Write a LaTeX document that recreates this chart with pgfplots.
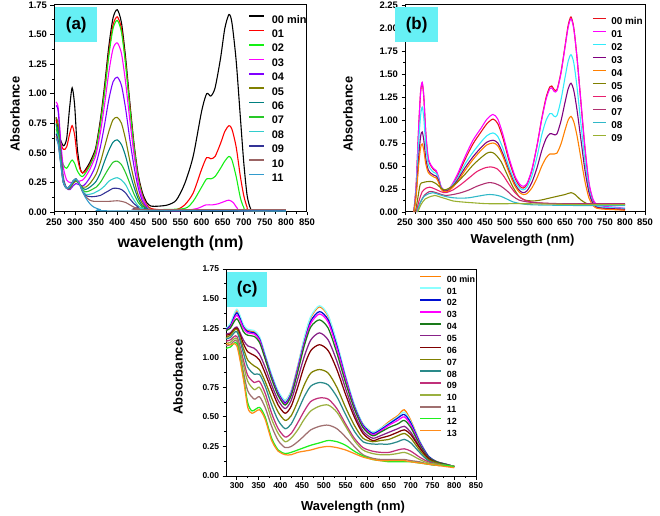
\documentclass[border=0pt]{standalone}
\usepackage{pgfplots}
\pgfplotsset{compat=1.18}
\usepackage{fontspec}
\setmainfont{Liberation Sans}
\definecolor{boxcyan}{RGB}{102,240,245}
% panel a colours
\definecolor{aA}{RGB}{0,0,0}
\definecolor{aB}{RGB}{255,0,0}
\definecolor{aC}{RGB}{20,240,20}
\definecolor{aD}{RGB}{255,0,255}
\definecolor{aE}{RGB}{128,0,255}
\definecolor{aF}{RGB}{128,128,0}
\definecolor{aG}{RGB}{0,128,128}
\definecolor{aH}{RGB}{40,200,40}
\definecolor{aI}{RGB}{50,205,205}
\definecolor{aJ}{RGB}{50,50,150}
\definecolor{aK}{RGB}{155,100,100}
\definecolor{aL}{RGB}{50,155,205}
% panel b colours
\definecolor{bA}{RGB}{232,16,26}
\definecolor{bB}{RGB}{255,0,255}
\definecolor{bC}{RGB}{50,235,250}
\definecolor{bD}{RGB}{128,0,128}
\definecolor{bE}{RGB}{255,128,0}
\definecolor{bF}{RGB}{128,128,0}
\definecolor{bG}{RGB}{232,32,110}
\definecolor{bH}{RGB}{176,48,112}
\definecolor{bI}{RGB}{48,184,200}
\definecolor{bJ}{RGB}{153,176,48}
% panel c colours
\definecolor{cA}{RGB}{255,128,0}
\definecolor{cB}{RGB}{140,255,255}
\definecolor{cC}{RGB}{0,16,210}
\definecolor{cD}{RGB}{255,0,255}
\definecolor{cE}{RGB}{26,122,26}
\definecolor{cF}{RGB}{136,34,136}
\definecolor{cG}{RGB}{128,0,0}
\definecolor{cH}{RGB}{128,128,0}
\definecolor{cI}{RGB}{42,138,138}
\definecolor{cJ}{RGB}{192,48,122}
\definecolor{cK}{RGB}{154,176,64}
\definecolor{cL}{RGB}{160,112,112}
\definecolor{cM}{RGB}{30,240,30}
\definecolor{cN}{RGB}{255,140,26}
\pgfplotsset{
  spec/.style={
    scale only axis, clip=false,
    axis line style={line width=1pt},
    tick style={line width=0.8pt, black},
    major tick length=3.5bp, minor tick length=2bp,
    tick align=outside, xtick pos=left, ytick pos=left,
    /pgf/number format/assume math mode=true,
    tick label style={font=\fontsize{9.5}{9.5}\selectfont\bfseries},
    y tick label style={/pgf/number format/fixed, /pgf/number format/fixed zerofill, /pgf/number format/precision=2},
    x tick label style={/pgf/number format/1000 sep={}},
    label style={font=\fontsize{13}{13}\selectfont\bfseries},
    minor x tick num=1, minor y tick num=1,
    legend cell align=left,
    every axis plot/.append style={smooth, tension=0.45, line width=1.1pt},
  },
}
\begin{document}
\begin{tikzpicture}
\path[use as bounding box] (0bp,0bp) rectangle (660bp,516bp);
% ---------------- panel (a) ----------------
\begin{axis}[spec, at={(54bp,304bp)}, anchor=south west, width=253bp, height=207bp,
  xmin=250, xmax=850, ymin=0, ymax=1.75,
  xtick={250,300,...,850}, ytick={0,0.25,0.5,0.75,1,1.25,1.5,1.75},
  xlabel={wavelength (nm)}, ylabel={Absorbance},
  x label style={at={(axis description cs:0.5,-0.15)}, anchor=center, font=\fontsize{16}{16}\selectfont\bfseries},
  y label style={at={(axis description cs:-0.154,0.473)}, anchor=center},
  legend style={draw=none, fill=none, at={(0.767,0.952)}, anchor=north west, inner sep=0pt, row sep=4.4bp,
    font=\fontsize{11}{11}\selectfont\bfseries, nodes={inner sep=0pt, text height=8bp, text depth=2bp},
    /tikz/every odd column/.append style={column sep=7bp}},
  legend image code/.code={\draw[#1, line width=1.6pt] (0bp,3.9bp) -- (15bp,3.9bp);},
]
\node[fill=boxcyan, inner sep=0pt, minimum width=42bp, minimum height=35bp, anchor=north west,
  font=\fontsize{17}{17}\selectfont\bfseries] at (axis description cs:0.004,0.99) {(a)};
\addplot[aA] coordinates {(255,0.80) (262,0.65) (272,0.56) (280,0.62) (287,0.88) (293,1.05) (299,0.90) (305,0.55) (312,0.37) (318,0.33) (325,0.36) (335,0.42) (345,0.50) (350,0.56) (360,0.78) (370,1.07) (380,1.40) (390,1.64) (400,1.71) (410,1.60) (420,1.30) (430,0.92) (440,0.57) (450,0.31) (460,0.16) (470,0.08) (480,0.05) (500,0.05) (520,0.06) (540,0.10) (560,0.24) (580,0.47) (600,0.85) (612,1.00) (622,0.98) (632,1.05) (645,1.30) (655,1.55) (665,1.67) (672,1.60) (682,1.28) (692,0.80) (700,0.42) (708,0.14) (716,0.03) (725,0.01) (800,0.01)};
\addlegendentry{00 min}
\addplot[aB] coordinates {(255,0.78) (262,0.62) (272,0.53) (280,0.55) (287,0.66) (293,0.73) (299,0.65) (305,0.47) (312,0.36) (318,0.33) (325,0.35) (335,0.40) (345,0.48) (350,0.54) (360,0.75) (370,1.03) (380,1.35) (390,1.58) (400,1.65) (410,1.55) (420,1.26) (430,0.89) (440,0.55) (450,0.29) (460,0.14) (470,0.06) (480,0.03) (500,0.02) (540,0.02) (560,0.06) (580,0.16) (600,0.36) (612,0.46) (622,0.45) (632,0.47) (645,0.58) (655,0.68) (665,0.73) (672,0.70) (682,0.55) (692,0.30) (700,0.14) (708,0.04) (716,0.01) (800,0.01)};
\addlegendentry{01}
\addplot[aC] coordinates {(255,0.75) (262,0.55) (272,0.40) (280,0.37) (287,0.41) (293,0.44) (299,0.41) (305,0.35) (312,0.31) (318,0.30) (325,0.33) (335,0.39) (345,0.47) (350,0.53) (360,0.74) (370,1.01) (380,1.32) (390,1.55) (400,1.62) (410,1.52) (420,1.24) (430,0.87) (440,0.54) (450,0.28) (460,0.13) (470,0.05) (480,0.02) (500,0.02) (560,0.03) (580,0.09) (600,0.21) (612,0.28) (622,0.28) (632,0.30) (645,0.37) (655,0.43) (665,0.47) (672,0.44) (682,0.30) (692,0.12) (700,0.04) (710,0.01) (800,0.01)};
\addlegendentry{02}
\addplot[aD] coordinates {(255,0.93) (260,0.88) (266,0.60) (272,0.38) (280,0.27) (288,0.25) (295,0.25) (302,0.26) (310,0.26) (318,0.27) (325,0.30) (335,0.36) (345,0.44) (350,0.49) (360,0.67) (370,0.91) (380,1.18) (390,1.38) (400,1.43) (410,1.34) (420,1.09) (430,0.77) (440,0.48) (450,0.25) (460,0.12) (470,0.05) (480,0.02) (550,0.01) (590,0.03) (610,0.06) (625,0.06) (640,0.07) (655,0.09) (665,0.10) (675,0.08) (685,0.03) (695,0.01) (800,0.01)};
\addlegendentry{03}
\addplot[aE] coordinates {(255,0.90) (260,0.85) (266,0.55) (272,0.30) (280,0.20) (288,0.19) (295,0.22) (302,0.24) (310,0.23) (318,0.22) (325,0.24) (335,0.29) (345,0.36) (350,0.41) (360,0.55) (370,0.74) (380,0.95) (390,1.10) (400,1.14) (410,1.07) (420,0.87) (430,0.61) (440,0.38) (450,0.20) (460,0.09) (470,0.04) (480,0.02) (800,0.01)};
\addlegendentry{04}
\addplot[aF] coordinates {(255,0.80) (260,0.74) (266,0.50) (272,0.28) (280,0.20) (288,0.20) (295,0.24) (302,0.26) (310,0.24) (318,0.21) (325,0.21) (335,0.24) (345,0.29) (350,0.32) (360,0.42) (370,0.55) (380,0.68) (390,0.78) (400,0.80) (410,0.75) (420,0.61) (430,0.43) (440,0.27) (450,0.14) (460,0.07) (470,0.03) (480,0.02) (800,0.01)};
\addlegendentry{05}
\addplot[aG] coordinates {(255,0.74) (260,0.68) (266,0.46) (272,0.27) (280,0.20) (288,0.21) (295,0.25) (302,0.27) (310,0.24) (318,0.20) (325,0.19) (335,0.21) (345,0.24) (350,0.26) (360,0.33) (370,0.43) (380,0.52) (390,0.59) (400,0.61) (410,0.57) (420,0.47) (430,0.33) (440,0.21) (450,0.11) (460,0.05) (470,0.03) (480,0.02) (800,0.01)};
\addlegendentry{06}
\addplot[aH] coordinates {(255,0.70) (260,0.64) (266,0.44) (272,0.26) (280,0.20) (288,0.22) (295,0.26) (302,0.27) (310,0.24) (318,0.19) (325,0.17) (335,0.18) (345,0.20) (350,0.21) (360,0.25) (370,0.31) (380,0.37) (390,0.42) (400,0.43) (410,0.40) (420,0.33) (430,0.24) (440,0.15) (450,0.08) (460,0.04) (470,0.02) (800,0.01)};
\addlegendentry{07}
\addplot[aI] coordinates {(255,0.67) (260,0.62) (266,0.43) (272,0.26) (280,0.20) (288,0.22) (295,0.26) (302,0.28) (310,0.24) (318,0.18) (325,0.15) (335,0.15) (345,0.16) (350,0.17) (360,0.19) (370,0.22) (380,0.26) (390,0.28) (400,0.29) (410,0.27) (420,0.23) (430,0.16) (440,0.10) (450,0.05) (460,0.03) (470,0.02) (800,0.01)};
\addlegendentry{08}
\addplot[aJ] coordinates {(255,0.66) (260,0.60) (266,0.42) (272,0.25) (280,0.20) (288,0.22) (295,0.26) (302,0.28) (310,0.24) (318,0.17) (325,0.14) (335,0.13) (345,0.13) (360,0.14) (370,0.16) (380,0.18) (390,0.20) (400,0.20) (410,0.19) (420,0.16) (430,0.11) (440,0.07) (450,0.04) (460,0.02) (800,0.01)};
\addlegendentry{09}
\addplot[aK] coordinates {(255,0.64) (260,0.58) (266,0.41) (272,0.25) (280,0.20) (288,0.22) (295,0.26) (302,0.28) (310,0.24) (318,0.17) (325,0.13) (335,0.10) (345,0.09) (360,0.09) (380,0.09) (400,0.095) (410,0.09) (420,0.08) (430,0.06) (440,0.04) (450,0.03) (460,0.02) (800,0.02)};
\addlegendentry{10}
\addplot[aL] coordinates {(255,0.62) (260,0.57) (266,0.40) (272,0.25) (280,0.20) (288,0.22) (295,0.26) (302,0.28) (310,0.24) (318,0.17) (325,0.12) (335,0.07) (345,0.04) (360,0.02) (380,0.01) (800,0.01)};
\addlegendentry{11}
\end{axis}
% ---------------- panel (b) ----------------
\begin{axis}[spec, at={(405bp,304bp)}, anchor=south west, width=240bp, height=207bp,
  xmin=250, xmax=850, ymin=0, ymax=2.25,
  xtick={250,300,...,850}, ytick={0,0.25,0.5,0.75,1,1.25,1.5,1.75,2,2.25},
  xlabel={Wavelength (nm)}, ylabel={Absorbance},
  x label style={at={(axis description cs:0.49,-0.135)}, anchor=center},
  y label style={at={(axis description cs:-0.2375,0.473)}, anchor=center},
  legend style={draw=none, fill=none, at={(0.779,0.942)}, anchor=north west, inner sep=0pt, row sep=3.5bp,
    font=\fontsize{10}{10}\selectfont\bfseries, nodes={inner sep=0pt, text height=7.5bp, text depth=2bp},
    /tikz/every odd column/.append style={column sep=4.5bp}},
  legend image code/.code={\draw[#1, line width=1.6pt] (0bp,3.6bp) -- (13bp,3.6bp);},
]
\node[fill=boxcyan, inner sep=0pt, minimum width=43bp, minimum height=35bp, anchor=north west,
  font=\fontsize{17}{17}\selectfont\bfseries] at (axis description cs:-0.042,0.99) {(b)};
\addplot[bA] coordinates {(272,0.00) (278,0.30) (284,0.90) (289,1.30) (293,1.40) (297,1.25) (302,0.85) (308,0.58) (315,0.50) (322,0.46) (328,0.44) (334,0.37) (340,0.27) (347,0.23) (355,0.23) (365,0.27) (380,0.38) (400,0.57) (420,0.74) (440,0.87) (455,0.96) (470,1.01) (482,0.96) (495,0.80) (510,0.56) (525,0.37) (537,0.28) (546,0.26) (555,0.30) (567,0.45) (580,0.72) (592,1.02) (603,1.25) (612,1.36) (617,1.37) (623,1.33) (630,1.33) (640,1.52) (650,1.80) (658,2.03) (665,2.12) (672,2.00) (680,1.68) (690,1.18) (700,0.68) (710,0.30) (720,0.12) (730,0.06) (750,0.04) (780,0.03) (800,0.02)};
\addlegendentry{00 min}
\addplot[bB] coordinates {(272,0.00) (278,0.30) (284,0.90) (289,1.31) (293,1.41) (297,1.26) (302,0.86) (308,0.59) (315,0.51) (322,0.47) (328,0.45) (334,0.38) (340,0.28) (347,0.24) (355,0.24) (365,0.28) (380,0.40) (400,0.60) (420,0.78) (440,0.91) (455,1.01) (470,1.06) (482,1.01) (495,0.84) (510,0.59) (525,0.39) (537,0.30) (546,0.28) (555,0.31) (567,0.46) (580,0.72) (592,1.01) (603,1.23) (612,1.34) (617,1.35) (623,1.31) (630,1.32) (640,1.51) (650,1.79) (658,2.01) (665,2.10) (672,1.99) (680,1.68) (690,1.19) (700,0.70) (710,0.32) (720,0.14) (730,0.08) (750,0.06) (780,0.05) (800,0.04)};
\addlegendentry{01}
\addplot[bC] coordinates {(272,0.00) (278,0.25) (284,0.75) (289,1.05) (293,1.14) (297,1.02) (302,0.72) (308,0.52) (315,0.46) (322,0.43) (328,0.42) (334,0.36) (340,0.27) (347,0.24) (355,0.24) (365,0.27) (380,0.36) (400,0.52) (420,0.65) (440,0.76) (455,0.83) (470,0.86) (482,0.82) (495,0.69) (510,0.49) (525,0.33) (537,0.26) (546,0.24) (555,0.27) (567,0.39) (580,0.60) (592,0.84) (603,1.00) (612,1.07) (617,1.07) (623,1.04) (630,1.05) (640,1.22) (650,1.46) (658,1.64) (665,1.71) (672,1.62) (680,1.36) (690,0.95) (700,0.55) (710,0.25) (720,0.10) (730,0.06) (750,0.05) (800,0.04)};
\addlegendentry{02}
\addplot[bD] coordinates {(272,0.00) (278,0.20) (284,0.58) (289,0.82) (293,0.87) (297,0.78) (302,0.58) (308,0.46) (315,0.42) (322,0.40) (328,0.39) (334,0.34) (340,0.26) (347,0.23) (355,0.23) (365,0.26) (380,0.34) (400,0.48) (420,0.60) (440,0.70) (455,0.76) (470,0.78) (482,0.75) (495,0.63) (510,0.45) (525,0.30) (537,0.23) (546,0.21) (555,0.23) (567,0.32) (580,0.48) (592,0.67) (603,0.80) (612,0.85) (617,0.85) (623,0.84) (630,0.85) (640,0.99) (650,1.19) (658,1.34) (665,1.40) (672,1.32) (680,1.11) (690,0.78) (700,0.45) (710,0.21) (720,0.09) (730,0.05) (750,0.04) (800,0.03)};
\addlegendentry{03}
\addplot[bE] coordinates {(272,0.00) (278,0.18) (284,0.50) (289,0.70) (293,0.74) (297,0.67) (302,0.52) (308,0.43) (315,0.40) (322,0.38) (328,0.37) (334,0.32) (340,0.25) (347,0.22) (355,0.22) (365,0.25) (380,0.32) (400,0.45) (420,0.57) (440,0.67) (455,0.73) (470,0.75) (482,0.72) (495,0.60) (510,0.43) (525,0.28) (537,0.21) (546,0.19) (555,0.20) (567,0.26) (580,0.37) (592,0.50) (603,0.59) (612,0.63) (617,0.63) (623,0.63) (630,0.64) (640,0.74) (650,0.89) (658,1.00) (665,1.04) (672,0.98) (680,0.83) (690,0.58) (700,0.33) (710,0.15) (720,0.07) (730,0.04) (750,0.03) (800,0.02)};
\addlegendentry{04}
\addplot[bF] coordinates {(276,0.00) (282,0.15) (288,0.30) (295,0.32) (305,0.33) (318,0.33) (330,0.30) (340,0.26) (350,0.24) (365,0.27) (380,0.32) (400,0.41) (420,0.51) (440,0.59) (455,0.64) (465,0.65) (475,0.63) (490,0.55) (505,0.41) (520,0.27) (535,0.17) (550,0.13) (570,0.12) (590,0.13) (610,0.15) (630,0.17) (650,0.19) (665,0.21) (675,0.19) (690,0.13) (705,0.09) (720,0.08) (800,0.08)};
\addlegendentry{05}
\addplot[bG] coordinates {(278,0.00) (285,0.12) (293,0.22) (303,0.26) (312,0.27) (325,0.25) (340,0.22) (352,0.21) (370,0.24) (390,0.30) (410,0.37) (430,0.44) (450,0.48) (465,0.49) (480,0.47) (495,0.40) (510,0.30) (525,0.21) (540,0.15) (555,0.12) (580,0.10) (620,0.09) (700,0.09) (800,0.08)};
\addlegendentry{06}
\addplot[bH] coordinates {(280,0.00) (288,0.10) (298,0.18) (310,0.22) (320,0.22) (335,0.20) (350,0.18) (370,0.19) (390,0.21) (410,0.24) (430,0.28) (450,0.31) (462,0.32) (475,0.31) (490,0.28) (505,0.23) (520,0.17) (535,0.13) (555,0.11) (580,0.10) (650,0.09) (800,0.09)};
\addlegendentry{07}
\addplot[bI] coordinates {(280,0.00) (288,0.10) (298,0.17) (310,0.20) (320,0.21) (335,0.19) (350,0.17) (370,0.155) (390,0.15) (410,0.155) (430,0.17) (450,0.185) (462,0.19) (475,0.185) (490,0.17) (505,0.14) (520,0.11) (540,0.09) (560,0.08) (600,0.075) (700,0.07) (800,0.07)};
\addlegendentry{08}
\addplot[bJ] coordinates {(282,0.00) (290,0.08) (300,0.14) (315,0.17) (325,0.18) (340,0.16) (355,0.14) (370,0.12) (390,0.11) (420,0.10) (460,0.09) (550,0.09) (700,0.08) (800,0.08)};
\addlegendentry{09}
\end{axis}
% ---------------- panel (c) ----------------
\begin{axis}[spec, at={(226bp,40bp)}, anchor=south west, width=250bp, height=207bp,
  xmin=275, xmax=850, ymin=0, ymax=1.75,
  tick label style={font=\fontsize{8.5}{8.5}\selectfont\bfseries},
  xtick={300,350,...,850}, ytick={0,0.25,0.5,0.75,1,1.25,1.5,1.75},
  xlabel={Wavelength (nm)}, ylabel={Absorbance},
  x label style={at={(axis description cs:0.508,-0.15)}, anchor=center},
  y label style={at={(axis description cs:-0.192,0.478)}, anchor=center},
  every axis plot/.append style={line width=1.25pt},
  legend style={draw=none, fill=none, at={(0.772,0.971)}, anchor=north west, inner sep=0pt, row sep=3.05bp,
    font=\fontsize{9}{9}\selectfont\bfseries, nodes={inner sep=0pt, text height=7bp, text depth=1.8bp},
    /tikz/every odd column/.append style={column sep=5bp}},
  legend image code/.code={\draw[#1, line width=1.6pt] (0bp,3.2bp) -- (21bp,3.2bp);},
]
\node[fill=boxcyan, inner sep=0pt, minimum width=40bp, minimum height=35bp, anchor=north west,
  font=\fontsize{17}{17}\selectfont\bfseries] at (axis description cs:0.004,0.986) {(c)};
\addplot[cA] coordinates {(275,1.24) (285,1.28) (300,1.40) (315,1.27) (325,1.23) (340,1.22) (352,1.17) (365,1.02) (380,0.85) (395,0.71) (411,0.64) (425,0.72) (440,0.93) (455,1.16) (470,1.34) (490,1.43) (510,1.35) (530,1.12) (550,0.84) (570,0.60) (590,0.44) (612,0.37) (630,0.40) (650,0.46) (670,0.51) (685,0.56) (700,0.47) (720,0.30) (740,0.17) (760,0.12) (780,0.10) (800,0.08)};
\addlegendentry{00 min}
\addplot[cB] coordinates {(275,1.25) (285,1.29) (300,1.41) (315,1.28) (325,1.24) (340,1.23) (352,1.18) (365,1.03) (380,0.86) (395,0.72) (411,0.64) (425,0.72) (440,0.93) (455,1.17) (470,1.35) (490,1.44) (510,1.36) (530,1.13) (550,0.85) (570,0.61) (590,0.44) (612,0.37) (630,0.40) (650,0.45) (670,0.50) (685,0.54) (700,0.46) (720,0.30) (740,0.17) (760,0.12) (780,0.10) (800,0.08)};
\addlegendentry{01}
\addplot[cC] coordinates {(275,1.24) (285,1.27) (300,1.38) (315,1.26) (325,1.22) (340,1.21) (352,1.16) (365,1.01) (380,0.84) (395,0.70) (411,0.62) (425,0.70) (440,0.91) (455,1.13) (470,1.31) (490,1.39) (510,1.32) (530,1.10) (550,0.83) (570,0.59) (590,0.43) (612,0.36) (630,0.39) (650,0.44) (670,0.49) (685,0.52) (700,0.45) (720,0.29) (740,0.17) (760,0.12) (780,0.10) (800,0.08)};
\addlegendentry{02}
\addplot[cD] coordinates {(275,1.23) (285,1.26) (300,1.36) (315,1.25) (325,1.21) (340,1.20) (352,1.15) (365,1.00) (380,0.83) (395,0.69) (411,0.61) (425,0.69) (440,0.90) (455,1.12) (470,1.29) (490,1.37) (510,1.30) (530,1.08) (550,0.82) (570,0.58) (590,0.42) (612,0.35) (630,0.38) (650,0.43) (670,0.47) (685,0.50) (700,0.43) (720,0.28) (740,0.16) (760,0.12) (780,0.10) (800,0.08)};
\addlegendentry{03}
\addplot[cE] coordinates {(275,1.23) (285,1.25) (300,1.33) (315,1.22) (325,1.19) (340,1.18) (352,1.13) (365,0.99) (380,0.82) (395,0.68) (411,0.60) (425,0.68) (440,0.88) (455,1.10) (470,1.26) (490,1.32) (510,1.25) (530,1.04) (550,0.79) (570,0.57) (590,0.41) (612,0.34) (630,0.37) (650,0.41) (670,0.44) (685,0.47) (700,0.41) (720,0.27) (740,0.16) (760,0.12) (780,0.10) (800,0.08)};
\addlegendentry{04}
\addplot[cF] coordinates {(275,1.20) (285,1.21) (300,1.26) (315,1.15) (325,1.10) (340,1.08) (352,1.03) (365,0.92) (380,0.77) (395,0.64) (411,0.57) (425,0.64) (440,0.82) (455,1.01) (470,1.15) (490,1.21) (510,1.15) (530,0.97) (550,0.74) (570,0.53) (590,0.38) (612,0.32) (630,0.34) (650,0.37) (670,0.40) (685,0.42) (700,0.37) (720,0.25) (740,0.15) (760,0.11) (780,0.09) (800,0.08)};
\addlegendentry{05}
\addplot[cG] coordinates {(275,1.19) (285,1.20) (300,1.25) (315,1.12) (325,1.05) (340,1.02) (352,0.98) (365,0.87) (380,0.73) (395,0.60) (411,0.53) (425,0.59) (440,0.75) (455,0.93) (470,1.06) (490,1.11) (510,1.06) (530,0.90) (550,0.69) (570,0.50) (590,0.36) (612,0.30) (630,0.32) (650,0.34) (670,0.37) (685,0.39) (700,0.35) (720,0.24) (740,0.15) (760,0.11) (780,0.09) (800,0.08)};
\addlegendentry{06}
\addplot[cH] coordinates {(275,1.17) (285,1.19) (300,1.24) (315,1.08) (325,0.98) (340,0.93) (352,0.90) (365,0.80) (380,0.66) (395,0.54) (411,0.47) (425,0.51) (440,0.63) (455,0.77) (470,0.87) (490,0.90) (510,0.87) (530,0.75) (550,0.58) (570,0.43) (590,0.32) (612,0.29) (630,0.30) (650,0.31) (670,0.34) (685,0.36) (700,0.32) (720,0.22) (740,0.14) (760,0.11) (780,0.09) (800,0.08)};
\addlegendentry{07}
\addplot[cI] coordinates {(275,1.16) (285,1.17) (300,1.22) (315,1.04) (325,0.92) (340,0.86) (352,0.86) (365,0.76) (380,0.60) (395,0.47) (411,0.40) (425,0.44) (440,0.55) (455,0.67) (470,0.76) (490,0.79) (510,0.77) (530,0.67) (550,0.52) (570,0.38) (590,0.29) (612,0.27) (630,0.27) (650,0.27) (670,0.29) (685,0.31) (700,0.28) (720,0.20) (740,0.13) (760,0.10) (780,0.09) (800,0.08)};
\addlegendentry{08}
\addplot[cJ] coordinates {(275,1.14) (285,1.15) (300,1.18) (315,0.98) (325,0.85) (340,0.79) (352,0.80) (365,0.70) (380,0.53) (395,0.40) (411,0.33) (425,0.36) (440,0.45) (455,0.55) (470,0.63) (490,0.66) (510,0.65) (530,0.57) (550,0.44) (570,0.32) (590,0.24) (612,0.21) (630,0.20) (650,0.20) (670,0.22) (685,0.23) (700,0.21) (720,0.16) (740,0.12) (760,0.10) (780,0.09) (800,0.08)};
\addlegendentry{09}
\addplot[cK] coordinates {(275,1.12) (285,1.13) (300,1.16) (315,0.94) (325,0.80) (340,0.73) (352,0.75) (365,0.65) (380,0.48) (395,0.36) (411,0.29) (425,0.32) (440,0.39) (455,0.48) (470,0.55) (490,0.59) (510,0.60) (530,0.54) (550,0.42) (570,0.30) (590,0.22) (612,0.19) (630,0.18) (650,0.18) (670,0.19) (685,0.20) (700,0.18) (720,0.14) (740,0.11) (760,0.10) (780,0.09) (800,0.08)};
\addlegendentry{10}
\addplot[cL] coordinates {(275,1.10) (285,1.11) (300,1.14) (315,0.88) (325,0.72) (340,0.65) (352,0.67) (365,0.58) (380,0.42) (395,0.30) (411,0.24) (425,0.25) (440,0.29) (455,0.34) (470,0.39) (490,0.42) (510,0.43) (530,0.40) (550,0.33) (570,0.25) (590,0.18) (612,0.15) (630,0.14) (650,0.14) (670,0.14) (685,0.14) (700,0.13) (720,0.12) (740,0.10) (760,0.09) (780,0.09) (800,0.08)};
\addlegendentry{11}
\addplot[cM] coordinates {(275,1.08) (285,1.09) (300,1.12) (315,0.84) (325,0.62) (335,0.55) (352,0.58) (365,0.50) (380,0.32) (395,0.22) (411,0.19) (425,0.20) (440,0.22) (455,0.24) (470,0.26) (490,0.28) (510,0.30) (530,0.29) (550,0.26) (570,0.21) (590,0.17) (612,0.14) (630,0.13) (650,0.12) (670,0.12) (685,0.12) (700,0.12) (720,0.11) (740,0.10) (760,0.09) (780,0.09) (800,0.08)};
\addlegendentry{12}
\addplot[cN] coordinates {(275,1.12) (285,1.11) (300,1.10) (315,0.82) (325,0.58) (335,0.53) (352,0.56) (365,0.48) (380,0.30) (395,0.21) (411,0.18) (425,0.18) (440,0.20) (455,0.21) (470,0.22) (490,0.24) (510,0.25) (530,0.24) (550,0.22) (570,0.19) (590,0.16) (612,0.14) (630,0.13) (650,0.13) (670,0.13) (685,0.13) (700,0.12) (720,0.11) (740,0.10) (760,0.09) (780,0.08) (800,0.07)};
\addlegendentry{13}
\end{axis}
\end{tikzpicture}
\end{document}
